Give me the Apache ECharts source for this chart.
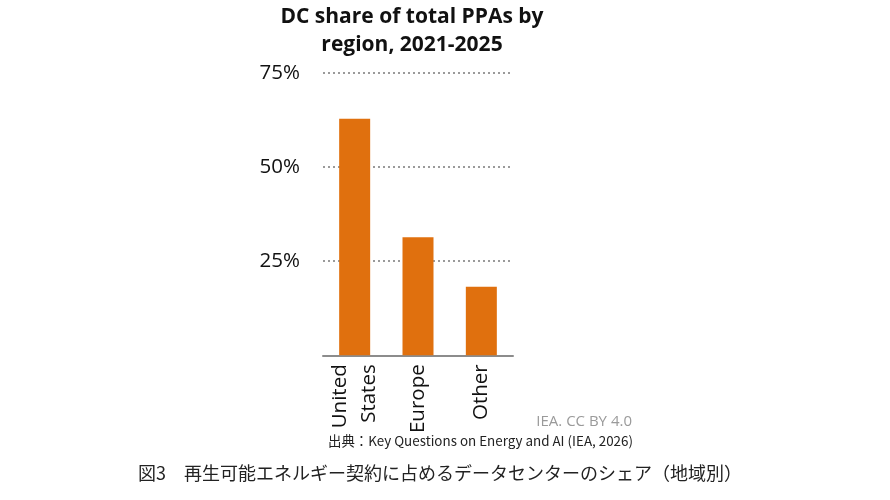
<!DOCTYPE html>
<html>
<head>
<meta charset="utf-8">
<script src="https://cdn.jsdelivr.net/npm/echarts@6/dist/echarts.min.js"></script>
<style>
  html, body { margin: 0; padding: 0; background: #fff; }
  #chart { width: 890px; height: 500px; }
</style>
</head>
<body>
<div id="chart"></div>
<script>
  // data
  const regions = ['United\nStates', 'Europe', 'Other']
  const dcShare = [62.8, 31.3, 18.2]
  const yTicks = [0, 25, 50, 75]

  const titleLines = ['DC share of total PPAs by', 'region, 2021-2025']
  const creditText = 'IEA. CC BY 4.0'
  const sourceText = '出典：Key Questions on Energy and AI (IEA, 2026)'
  const captionText = '図3　再生可能エネルギー契約に占めるデータセンターのシェア（地域別）'

  const latinFont = '"Open Sans", "Noto Sans", sans-serif'
  const cjkFont = '"Noto Sans CJK JP", "Noto Sans", sans-serif'

  const chart = echarts.init(document.getElementById('chart'))

  chart.setOption({
    animation: false,
    grid: {left: 323, right: 377, top: 72.7, bottom: 144.7},
    xAxis: {
      type: 'category',
      data: regions,
      axisTick: {show: false},
      axisLine: {lineStyle: {color: '#8c8c8c', width: 2}},
      axisLabel: {
        rotate: 90,
        margin: 9,
        color: '#111',
        fontFamily: latinFont,
        fontSize: 20.5,
        lineHeight: 29,
        interval: 0,
      },
    },
    yAxis: {
      type: 'value',
      min: yTicks[0],
      max: yTicks[yTicks.length - 1],
      interval: 25,
      axisLine: {show: false},
      axisTick: {show: false},
      axisLabel: {
        margin: 23,
        color: '#111',
        fontFamily: latinFont,
        fontSize: 20.5,
        formatter: v => (v === 0 ? '' : v + '%'),
      },
      splitLine: {
        lineStyle: {color: '#9a9a9a', width: 2, type: [2, 3]},
      },
    },
    series: [{
      type: 'bar',
      data: dcShare,
      barWidth: 31,
      itemStyle: {color: '#e0700e'},
    }],
    graphic: [
      {
        type: 'text', x: 412, y: 17,
        style: {
          text: titleLines[0], align: 'center', verticalAlign: 'middle',
          font: 'bold 21px ' + latinFont, fill: '#111',
        },
      },
      {
        type: 'text', x: 412, y: 45,
        style: {
          text: titleLines[1], align: 'center', verticalAlign: 'middle',
          font: 'bold 21px ' + latinFont, fill: '#111',
        },
      },
      {
        type: 'text', x: 632, y: 422,
        style: {
          text: creditText, align: 'right', verticalAlign: 'middle',
          font: '15px ' + latinFont, fill: '#9a9a9a',
        },
      },
      {
        type: 'text', x: 633, y: 441,
        style: {
          text: sourceText, align: 'right', verticalAlign: 'middle',
          font: '13.4px ' + cjkFont, fill: '#222',
        },
      },
      {
        type: 'text', x: 440, y: 473,
        style: {
          text: captionText, align: 'center', verticalAlign: 'middle',
          font: '18px ' + cjkFont, fill: '#222',
        },
      },
    ],
  })
</script>
</body>
</html>
